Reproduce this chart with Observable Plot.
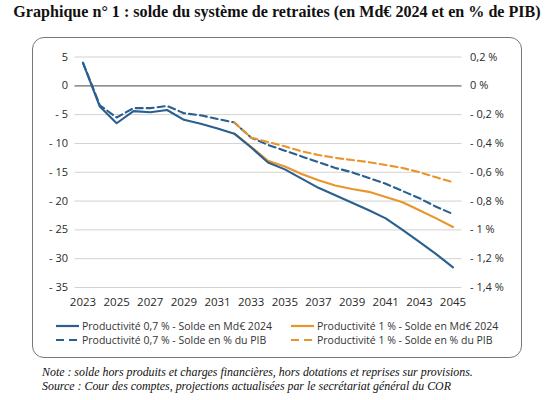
<!DOCTYPE html>
<html>
<head>
<meta charset="utf-8">
<script src="https://cdn.jsdelivr.net/npm/d3@7"></script>
<script src="https://cdn.jsdelivr.net/npm/@observablehq/plot@0.6"></script>
<style>
  body { margin: 0; width: 554px; height: 400px; position: relative; background: #fff; font-family: "Open Sans", sans-serif; }
  #title { position: absolute; top: 3px; left: 0; width: 554px; text-align: center; font: bold 16.1px "Liberation Serif", serif; color: #111; }
  #box { position: absolute; left: 32px; top: 37px; width: 490px; height: 321px; border: 1.5px solid #777; border-radius: 12px; box-sizing: border-box; }
  #chart { position: absolute; left: 0; top: 0; }
  .leg { position: absolute; font-size: 10.5px; color: #333; white-space: nowrap; display: flex; align-items: center; }
  .leg svg { margin-right: 2px; }
  #notes { position: absolute; left: 42px; top: 365px; font: italic 11.9px "Liberation Serif", serif; color: #111; line-height: 14px; }
</style>
</head>
<body>
<div id="title">Graphique n° 1 : solde du système de retraites (en Md€ 2024 et en % de PIB)</div>
<div id="box">
  <div id="chart"></div>
  <div id="legend"></div>
</div>
<div id="notes">Note : solde hors produits et charges financières, hors dotations et reprises sur provisions.<br>Source : Cour des comptes, projections actualisées par le secrétariat général du COR</div>
<script>
const annees = [2023, 2024, 2025, 2026, 2027, 2028, 2029, 2030, 2031, 2032, 2033, 2034,
  2035, 2036, 2037, 2038, 2039, 2040, 2041, 2042, 2043, 2044, 2045];

// Solde en Md€ 2024
const solde07 = [4, -3.6, -6.5, -4.4, -4.6, -4.2, -5.9, -6.6, -7.4, -8.3, -10.7, -13.3,
  -14.5, -16.1, -17.7, -19.0, -20.3, -21.6, -23.0, -25.0, -27.1, -29.2, -31.5];
const solde1 = [null, null, null, null, null, null, null, null, null, -8.3, -10.6, -13.0,
  -14.0, -15.3, -16.4, -17.3, -17.9, -18.4, -19.3, -20.2, -21.6, -23.0, -24.5];

// Solde en % du PIB
const pib07 = [0.16, -0.135, -0.22, -0.155, -0.155, -0.14, -0.19, -0.205, -0.23, -0.255, -0.36, -0.41,
  -0.45, -0.49, -0.53, -0.57, -0.60, -0.64, -0.68, -0.73, -0.78, -0.84, -0.89];
const pib1 = [null, null, null, null, null, null, null, null, null, -0.255, -0.36, -0.39,
  -0.42, -0.455, -0.48, -0.50, -0.515, -0.53, -0.55, -0.57, -0.60, -0.635, -0.67];

const ticksMd = [5, 0, -5, -10, -15, -20, -25, -30, -35];
const ticksAnnees = [2023, 2025, 2027, 2029, 2031, 2033, 2035, 2037, 2039, 2041, 2043, 2045];

const bleu = "#2a5f8f";
const orange = "#e8962c";
const ratio = 25; // 0,2 % <-> 5 Md€

const series = [
  {nom: "Productivité 0,7 % - Solde en % du PIB", valeurs: pib07, pct: true, color: bleu, dash: true},
  {nom: "Productivité 1 % - Solde en % du PIB", valeurs: pib1, pct: true, color: orange, dash: true},
  {nom: "Productivité 1 % - Solde en Md€ 2024", valeurs: solde1, pct: false, color: orange, dash: false},
  {nom: "Productivité 0,7 % - Solde en Md€ 2024", valeurs: solde07, pct: false, color: bleu, dash: false}
];

const fmtMd = d => d < 0 ? "- " + (-d) : String(d);
const fmtPct = d => {
  const v = Math.round(d / ratio * 10) / 10;
  const s = String(Math.abs(v)).replace(".", ",") + " %";
  return v < 0 ? "- " + s : s;
};

const marks = [
  Plot.ruleY(ticksMd.filter(d => d !== 0), {stroke: "#d2d2d2", strokeWidth: 1}),
  Plot.ruleY([0], {stroke: "#6b6b6b", strokeWidth: 1.3}),
  Plot.axisX({ticks: ticksAnnees, tickFormat: d => String(d), tickSize: 0, tickPadding: 10, fontSize: 11.5, label: null}),
  Plot.axisY({ticks: ticksMd, tickFormat: fmtMd, tickSize: 0, tickPadding: 7, fontSize: 11, anchor: "left", label: null}),
  Plot.axisY({ticks: ticksMd, tickFormat: fmtPct, tickSize: 0, tickPadding: 8, fontSize: 11, anchor: "right", label: null})
];

for (const s of series) {
  const rows = annees.map((a, i) => ({annee: a, v: s.valeurs[i]}))
    .filter(d => d.v != null)
    .map(d => ({annee: d.annee, y: s.pct ? d.v * ratio : d.v}));
  marks.push(Plot.lineY(rows, {
    x: "annee", y: "y", stroke: s.color, strokeWidth: 2.1,
    strokeDasharray: s.dash ? "7,4" : null
  }));
}

const chart = Plot.plot({
  width: 487,
  height: 275,
  marginLeft: 41.5,
  marginRight: 58.5,
  marginTop: 18.5,
  marginBottom: 26,
  x: {domain: [2023, 2045], insetLeft: 8, insetRight: 9},
  y: {domain: [-35, 5]},
  style: {fontFamily: "Open Sans", fontSize: "11px", color: "#2a2a2a", background: "transparent", overflow: "visible"},
  marks
});
document.getElementById("chart").append(chart);

// légende
const legende = [
  {nom: "Productivité 0,7 % - Solde en Md€ 2024", color: bleu, dash: false, x: 23, y: 281},
  {nom: "Productivité 1 % - Solde en Md€ 2024", color: orange, dash: false, x: 258, y: 281},
  {nom: "Productivité 0,7 % - Solde en % du PIB", color: bleu, dash: true, x: 23, y: 295},
  {nom: "Productivité 1 % - Solde en % du PIB", color: orange, dash: true, x: 258, y: 295}
];
const leg = document.getElementById("legend");
for (const l of legende) {
  const div = document.createElement("div");
  div.className = "leg";
  div.style.left = l.x + "px";
  div.style.top = l.y + "px";
  div.innerHTML = `<svg width="24" height="8"><line x1="0" x2="23" y1="4" y2="4" stroke="${l.color}" stroke-width="2.2" ${l.dash ? 'stroke-dasharray="8,5"' : ""}/></svg>${l.nom}`;
  leg.append(div);
}
</script>
</body>
</html>
